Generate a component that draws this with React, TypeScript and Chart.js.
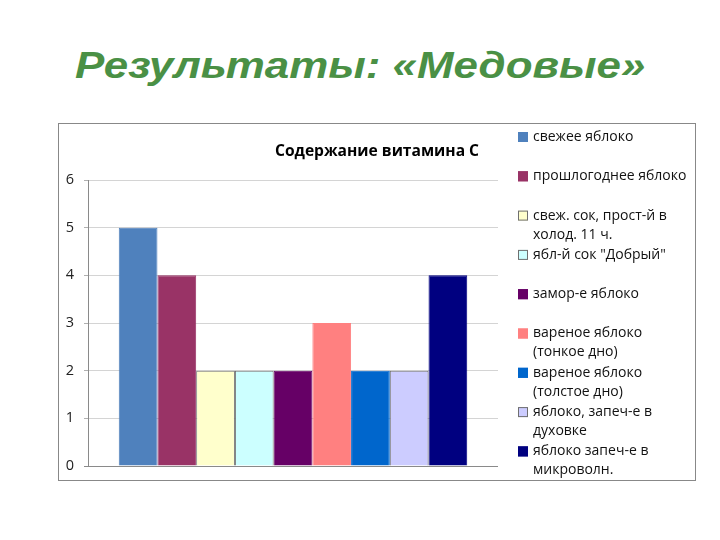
import React, { useEffect, useRef } from "react";
import { Chart, registerables } from "chart.js";

Chart.register(...registerables);

const SLIDE_TITLE = "Результаты: «Медовые»";
const CHART_TITLE = "Содержание витамина C";
const CATEGORIES = [""];
const SERIES_LINES: string[][] = [
  ["свежее яблоко"],
  ["прошлогоднее яблоко"],
  ["свеж. сок, прост-й в", "холод. 11 ч."],
  ["ябл-й сок \"Добрый\""],
  ["замор-е яблоко"],
  ["вареное яблоко", "(тонкое дно)"],
  ["вареное яблоко", "(толстое дно)"],
  ["яблоко, запеч-е в", "духовке"],
  ["яблоко запеч-е в", "микроволн."],
];
const SERIES_VALUES = [5, 4, 2, 2, 2, 3, 2, 2, 4];
const SERIES_COLORS = [
  "#4F81BD",
  "#993366",
  "#FFFFCC",
  "#CCFFFF",
  "#660066",
  "#FF8080",
  "#0066CC",
  "#CCCCFF",
  "#000080",
];
const SERIES_BORDERS = [
  "#4F81BD",
  "#993366",
  "#6f6f6f",
  "#6f6f6f",
  "#660066",
  "#FF8080",
  "#0066CC",
  "#6f6f6f",
  "#000080",
];
const Y_MIN = 0;
const Y_MAX = 6;
const Y_STEP = 1;

const FONT = "'Open Sans', 'Noto Sans', sans-serif";

const sideDecor = {
  id: "sideDecor",
  afterDraw(chart: any) {
    const ctx = chart.ctx as CanvasRenderingContext2D;
    const area = chart.chartArea;
    ctx.save();
    ctx.font = `bold 15.6px ${FONT}`;
    ctx.fillStyle = "#000";
    ctx.textAlign = "center";
    ctx.textBaseline = "middle";
    ctx.fillText(CHART_TITLE, chart.width / 2, 27.5);

    const x0 = area.right + 20;
    const y0 = 13;
    const slot = 39.3;
    const lineH = 19;
    ctx.font = `14px ${FONT}`;
    ctx.textAlign = "left";
    chart.data.datasets.forEach((ds: any, i: number) => {
      const y = y0 + i * slot;
      ctx.fillStyle = ds.backgroundColor;
      ctx.fillRect(x0, y - 5, 10, 10);
      ctx.strokeStyle = ds.borderColor;
      ctx.lineWidth = 1;
      ctx.strokeRect(x0 + 0.5, y - 4.5, 9, 9);
      ctx.fillStyle = "#111";
      (ds.legendLines as string[]).forEach((ln, j) => {
        ctx.fillText(ln, x0 + 15, y + j * lineH);
      });
    });
    ctx.restore();
  },
};

export default function App() {
  const ref = useRef<HTMLCanvasElement>(null);
  useEffect(() => {
    if (!ref.current) return;
    const chart = new Chart(ref.current, {
      type: "bar",
      data: {
        labels: CATEGORIES,
        datasets: SERIES_LINES.map((lines, i) => ({
          label: lines.join(" "),
          legendLines: lines,
          data: [SERIES_VALUES[i]],
          backgroundColor: SERIES_COLORS[i],
          borderColor: SERIES_BORDERS[i],
          borderWidth: 1,
          categoryPercentage: 0.85,
          barPercentage: 1.0,
        })) as any,
      },
      options: {
        animation: false,
        responsive: false,
        layout: { padding: { left: 0, right: 197, bottom: 14, top: 56 } },
        plugins: {
          legend: { display: false },
          tooltip: { enabled: false },
          title: { display: false },
        },
        scales: {
          x: {
            grid: { display: false },
            border: { display: false },
            ticks: { display: false },
            afterFit: (s: any) => {
              s.height = 0;
              s.paddingTop = 0;
              s.paddingBottom = 0;
            },
          },
          y: {
            min: Y_MIN,
            max: Y_MAX,
            ticks: {
              stepSize: Y_STEP,
              color: "#222",
              font: { family: FONT, size: 14.5 },
              padding: 10,
            },
            grid: {
              color: (c: any) => (c.tick && c.tick.value === 0 ? "#8a8a8a" : "#d4d4d4"),
              tickColor: (c: any) => (c.tick && c.tick.value === 0 ? "#8a8a8a" : "#b0b0b0"),
              tickLength: 4,
            },
            border: { display: true, color: "#8a8a8a" },
            afterFit: (s: any) => {
              s.width = 29;
              s.paddingTop = 0;
              s.paddingBottom = 0;
            },
          },
        },
      },
      plugins: [sideDecor],
    });
    return () => chart.destroy();
  }, []);

  return (
    <div style={{ position: "absolute", left: 0, top: 0, width: 720, height: 540, background: "#fff" }}>
      <div
        style={{
          position: "absolute",
          left: 0,
          top: 47,
          width: 720,
          textAlign: "center",
          fontFamily: "'Liberation Sans', Arial, sans-serif",
          fontWeight: "bold",
          fontStyle: "italic",
          fontSize: 37,
          lineHeight: "37px",
          color: "#4A9045",
          whiteSpace: "nowrap",
        }}
      >
        <span style={{ display: "inline-block", transform: "scaleX(1.187)", transformOrigin: "center" }}>
          {SLIDE_TITLE}
        </span>
      </div>
      <div
        style={{
          position: "absolute",
          left: 58,
          top: 123,
          width: 636,
          height: 356,
          border: "1px solid #888",
        }}
      >
        <canvas ref={ref} width={636} height={356} style={{ display: "block" }} />
      </div>
    </div>
  );
}
